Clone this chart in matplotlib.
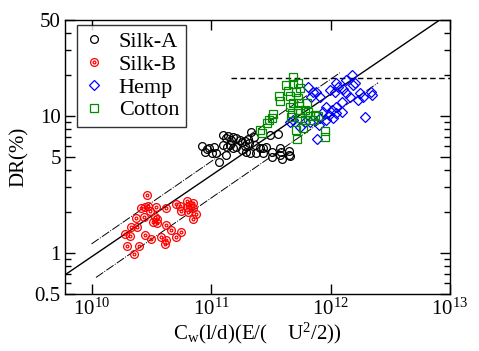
import matplotlib as mpl
mpl.use('Agg')
import matplotlib.pyplot as plt
from matplotlib.ticker import FixedLocator, LogLocator, NullFormatter, NullLocator
from matplotlib.legend_handler import HandlerTuple

plt.rcParams['font.family'] = ['Liberation Serif', 'DejaVu Serif']
plt.rcParams['mathtext.fontset'] = 'custom'
plt.rcParams['mathtext.rm'] = 'Liberation Serif'
plt.rcParams['mathtext.it'] = 'Liberation Serif:italic'

# Silk-A (black open circles)
silkA_x = [8.33e10, 8.87e10, 9.64e10, 1.055e11, 1.11e11, 1.17e11, 1.25e11, 1.33e11, 1.39e11,
           1.46e11, 1.53e11, 1.63e11, 1.74e11, 1.83e11, 1.93e11, 2.04e11, 2.18e11, 2.28e11,
           1.26e11, 1.35e11, 1.44e11, 1.53e11, 1.63e11, 1.80e11, 1.95e11, 2.14e11, 2.40e11,
           2.73e11, 3.21e11, 3.27e11, 3.82e11, 3.89e11, 4.50e11, 4.56e11, 2.56e11, 2.33e11,
           1.33e11, 1.01e11, 9.17e10, 1.92e11, 2.08e11, 3.10e11, 3.64e11, 2.91e11, 3.77e11,
           2.73e11, 3.77e11, 4.50e11]
silkA_y = [6.01, 5.47, 5.78, 5.89, 5.37, 4.62, 7.24, 6.84, 7.11,
           6.65, 7.03, 6.84, 6.65, 6.47, 6.58, 6.73, 7.65, 7.03,
           6.12, 5.94, 6.12, 5.78, 5.94, 5.62, 5.47, 5.37, 5.32,
           5.32, 5.47, 5.02, 5.41, 4.81, 5.56, 5.08, 5.78, 6.12,
           5.17, 5.32, 5.69, 6.01, 6.29, 7.24, 7.30, 5.94, 5.78,
           5.78, 5.17, 5.17]

# Silk-B (red bullseye circles)
silkB_x = [2.92e10, 2.62e10, 2.79e10, 2.98e10, 3.45e10, 4.18e10, 5.08e10, 5.48e10, 6.24e10,
           7.08e10, 6.24e10, 7.08e10, 5.66e10, 6.43e10, 7.46e10, 7.08e10, 2.35e10, 2.75e10,
           3.39e10, 3.54e10, 3.24e10, 3.50e10, 4.18e10, 2.16e10, 2.41e10, 4.67e10, 1.90e10,
           2.09e10, 2.79e10, 3.12e10, 3.85e10, 4.18e10, 4.10e10, 5.14e10, 5.66e10, 2.00e10,
           2.49e10, 2.26e10, 6.65e10, 3.08e10]
silkB_y = [2.64, 2.11, 2.15, 2.19, 2.17, 2.13, 2.27, 2.19, 2.39,
           2.32, 2.17, 2.11, 2.03, 1.99, 1.92, 1.75, 1.80, 1.81,
           1.83, 1.75, 1.69, 1.66, 1.59, 1.53, 1.53, 1.47, 1.36,
           1.32, 1.35, 1.27, 1.30, 1.24, 1.16, 1.30, 1.41, 1.12,
           1.12, 0.98, 2.23, 2.02]

# Hemp (blue diamonds)
hemp_x = [1.50e12, 1.36e12, 1.60e12, 1.12e12, 1.16e12, 1.27e12, 9.87e11, 1.09e12, 6.49e11,
          7.53e11, 8.13e11, 6.93e11, 1.36e12, 1.45e12, 1.76e12, 1.87e12, 2.20e12, 2.24e12,
          1.70e12, 1.24e12, 1.12e12, 1.02e12, 9.25e11, 8.67e11, 9.73e11, 1.12e12, 1.24e12,
          1.05e12, 9.25e11, 8.13e11, 8.03e11, 6.71e11, 6.10e11, 4.86e11, 4.56e11, 5.53e11,
          7.73e11, 1.94e12, 7.11e11, 1.54e12]
hemp_y = [19.8, 18.2, 17.4, 17.3, 16.3, 15.6, 15.4, 15.0, 16.3,
          14.8, 13.8, 13.6, 14.6, 13.8, 14.6, 13.6, 15.0, 14.2,
          13.0, 12.7, 11.6, 11.1, 11.6, 10.7, 10.1, 10.4, 10.7,
          9.58, 9.31, 9.58, 8.56, 9.06, 9.06, 9.31, 9.06, 8.32,
          6.73, 9.84, 15.0, 16.8]

# Cotton (green squares)
cotton_x = [4.86e11, 4.28e11, 4.86e11, 5.35e11, 5.53e11, 4.42e11, 5.12e11, 3.72e11, 3.77e11,
            4.56e11, 5.35e11, 4.86e11, 5.46e11, 6.30e11, 6.10e11, 5.35e11, 4.56e11, 4.72e11,
            5.53e11, 6.49e11, 6.71e11, 7.39e11, 7.87e11, 7.07e11, 3.31e11, 3.21e11, 2.95e11,
            3.05e11, 2.56e11, 2.66e11, 5.19e11, 5.90e11, 8.96e11, 8.96e11, 5.25e11, 4.65e11,
            5.53e11, 6.10e11]
cotton_y = [19.1, 16.8, 17.1, 17.4, 15.9, 15.2, 15.0, 13.9, 12.9,
            13.9, 13.4, 12.4, 12.3, 12.3, 11.1, 11.1, 11.6, 10.4,
            10.5, 10.7, 9.96, 10.1, 9.96, 9.31, 10.3, 9.58, 8.81,
            9.31, 7.87, 7.48, 7.87, 8.10, 7.78, 6.96, 6.73, 9.84,
            9.58, 9.31]

# fit line and its bounds
fit_x = [6e9, 8.2e12]
fit_y = [0.69, 50]
upper_x = [1.0e10, 1.2e12]
upper_y = [1.16, 20.6]
lower_x = [1.09e10, 2.5e12]
lower_y = [0.66, 17.4]
limit_x = [1.47e11, 1e13]
limit_y = [18.8, 18.8]

fig = plt.figure(figsize=(4.79, 3.51), dpi=100)
ax = fig.add_axes([65 / 479, 1 - 294 / 351, 385 / 479, 274 / 351])
ax.set_xscale('log')
ax.set_yscale('log')

ax.plot(fit_x, fit_y, color='black', lw=1.0)
ax.plot(upper_x, upper_y, color='black', lw=0.7, dashes=(9, 1.5, 1, 1.5))
ax.plot(lower_x, lower_y, color='black', lw=0.7, dashes=(9, 1.5, 1, 1.5))
ax.plot(limit_x, limit_y, color='black', lw=1.0, dashes=(4, 2.5))

mew = 0.9
hA, = ax.plot(silkA_x, silkA_y, 'o', ls='none', ms=5.6, mfc='none', mec='black', mew=mew)
hB1, = ax.plot(silkB_x, silkB_y, 'o', ls='none', ms=5.6, mfc='none', mec='red', mew=mew)
hB2, = ax.plot(silkB_x, silkB_y, 'o', ls='none', ms=2.0, mfc='none', mec='red', mew=mew)
hH, = ax.plot(hemp_x, hemp_y, 'D', ls='none', ms=5.2, mfc='none', mec='blue', mew=mew)
hC, = ax.plot(cotton_x, cotton_y, 's', ls='none', ms=5.6, mfc='none', mec='#008b00', mew=mew)

ax.set_xlim(6e9, 1e13)
ax.set_ylim(0.5, 50)

ax.xaxis.set_major_locator(FixedLocator([1e10, 1e11, 1e12, 1e13]))
ax.xaxis.set_minor_locator(NullLocator())
ax.yaxis.set_major_locator(FixedLocator([0.5, 1, 5, 10, 50]))
ax.yaxis.set_major_formatter(mpl.ticker.FixedFormatter(['0.5', '1', '5', '10', '50']))
ax.yaxis.set_minor_locator(LogLocator(subs=(2, 3, 4, 5, 6, 7, 8, 9)))
ax.yaxis.set_minor_formatter(NullFormatter())
ax.tick_params(which='both', direction='in', top=True, right=True, width=1.0)
ax.tick_params(which='major', length=7, labelsize=15, pad=3)
ax.tick_params(which='minor', length=4)
for s in ax.spines.values():
    s.set_linewidth(1.0)

ax.set_xlabel('C$_{\\rm w}$(l/d)(E/(    U$^2$/2))', fontsize=15, labelpad=1)
ax.set_ylabel('DR(%)', fontsize=15, labelpad=4)

leg = ax.legend([hA, (hB1, hB2), hH, hC], ['Silk-A', 'Silk-B', 'Hemp', 'Cotton'],
                handler_map={tuple: HandlerTuple(ndivide=1)},
                loc='upper left', bbox_to_anchor=(0.03, 0.982), borderaxespad=0,
                fontsize=16, frameon=True, fancybox=False, handlelength=1.0,
                handletextpad=0.6, labelspacing=0.1, borderpad=0.3)
leg.get_frame().set_edgecolor('black')
leg.get_frame().set_linewidth(1.0)

fig.savefig('out.png', dpi=100)
